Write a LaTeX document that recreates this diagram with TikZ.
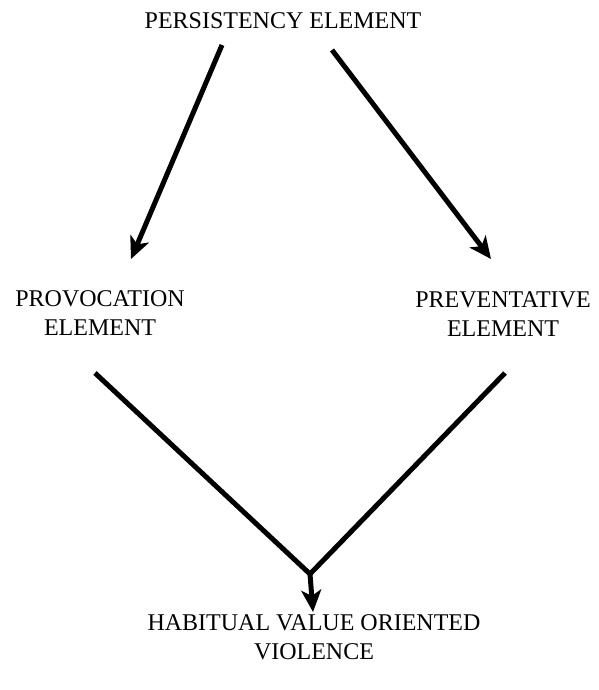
\documentclass[tikz,border=0pt]{standalone}
\usepackage{fontspec}
\setmainfont{Liberation Serif}
\usetikzlibrary{arrows.meta}
\begin{document}
\begin{tikzpicture}[x=1pt,y=-1pt,
  lbl/.style={font=\fontsize{24}{29}\selectfont, align=center, inner sep=0pt},
  link/.style={line width=5pt, draw=black},
  arr/.style={link, -{Stealth[length=22pt,width=20pt,inset=6pt]}}]
\useasboundingbox (0,0) rectangle (599,690);
\node[lbl] (pers) at (283,21) {PERSISTENCY ELEMENT};
\node[lbl] (prov) at (100,313) {PROVOCATION\\ELEMENT};
\node[lbl] (prev) at (503,314) {PREVENTATIVE\\ELEMENT};
\node[lbl] (hab) at (314,637) {HABITUAL VALUE ORIENTED\\VIOLENCE};
\coordinate (a1) at (222,45);
\coordinate (a2) at (131,259);
\coordinate (b1) at (332,50);
\coordinate (b2) at (491,259);
\coordinate (c1) at (95,373);
\coordinate (d1) at (505,373);
\coordinate (j) at (310,574);
\coordinate (e2) at (313,612);
\draw[arr] (a1) -- (a2);
\draw[arr] (b1) -- (b2);
\draw[link, line join=miter] (c1) -- (j) -- (d1);
\draw[arr] (j) -- (e2);
\end{tikzpicture}
\end{document}
